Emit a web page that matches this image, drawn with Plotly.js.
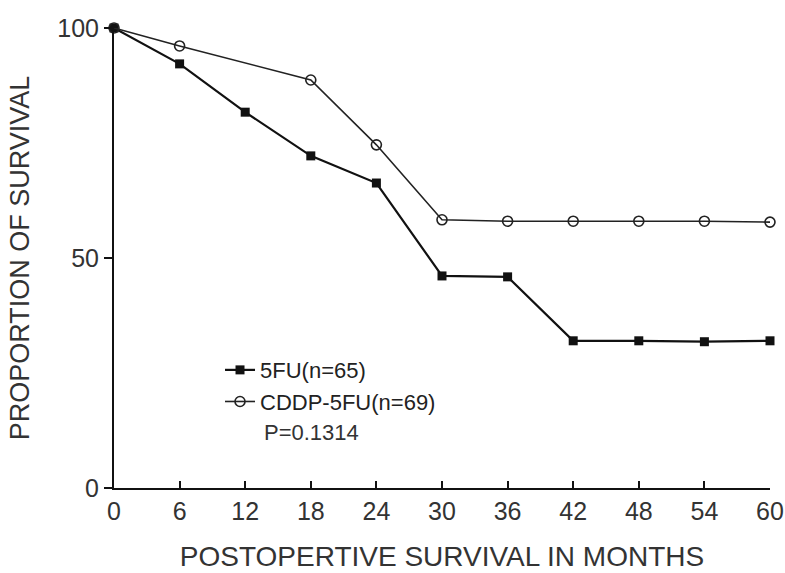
<!DOCTYPE html>
<html>
<head>
<meta charset="utf-8">
<script src="https://cdn.plot.ly/plotly-3.0.1.min.js"></script>
<style>html,body{margin:0;padding:0;background:#fff;}#chart{width:785px;height:573px;}</style>
</head>
<body>
<div id="chart"></div>
<script>
// Data
const monthsFU = [0, 6, 12, 18, 24, 30, 36, 42, 48, 54, 60];
const survFU = [100, 92.2, 81.7, 72.2, 66.3, 46.1, 45.9, 32.0, 32.0, 31.8, 32.0];
const monthsCDDP = [0, 6, 18, 24, 30, 36, 42, 48, 54, 60];
const survCDDP = [100, 96.1, 88.7, 74.6, 58.3, 58.0, 58.0, 58.0, 58.0, 57.8];
const xTicks = [0, 6, 12, 18, 24, 30, 36, 42, 48, 54, 60];
const yTicks = [0, 50, 100];
const nameFU = '5FU(n=65)';
const nameCDDP = 'CDDP-5FU(n=69)';
const pText = 'P=0.1314';

const FONT = 'Liberation Sans, Arial, sans-serif';

const traces = [
  {
    x: monthsFU, y: survFU, name: nameFU, type: 'scatter', mode: 'lines+markers',
    line: {color: '#111', width: 2.2},
    marker: {symbol: 'square', size: 9, color: '#111'},
    cliponaxis: false
  },
  {
    x: monthsCDDP, y: survCDDP, name: nameCDDP, type: 'scatter', mode: 'lines+markers',
    line: {color: '#222', width: 1.6},
    marker: {symbol: 'circle-open', size: 10, color: '#222', line: {width: 1.6}},
    cliponaxis: false
  }
];

const layout = {
  width: 785, height: 573,
  margin: {l: 114, r: 15, t: 28, b: 85},
  paper_bgcolor: '#fff', plot_bgcolor: '#fff',
  font: {family: FONT, color: '#222'},
  showlegend: true,
  legend: {
    x: 0.1616, y: 0.302, xanchor: 'left', yanchor: 'top',
    bgcolor: 'rgba(0,0,0,0)', font: {size: 22, family: FONT, color: '#222'},
    tracegroupgap: 0
  },
  xaxis: {
    range: [0, 60], tickmode: 'array', tickvals: xTicks, ticktext: xTicks.map(String),
    ticks: 'inside', ticklen: 7, tickwidth: 2, tickcolor: '#111',
    showline: true, linecolor: '#111', linewidth: 2, showgrid: false, zeroline: false,
    tickfont: {size: 25, family: FONT, color: '#333'},
    title: {text: 'POSTOPERTIVE SURVIVAL IN MONTHS', font: {size: 28, family: FONT, color: '#333'}, standoff: 22},
    automargin: false
  },
  yaxis: {
    range: [0, 100], tickmode: 'array', tickvals: yTicks, ticktext: yTicks.map(String),
    ticks: 'outside', ticklen: 8, tickwidth: 2, tickcolor: '#111',
    showline: true, linecolor: '#111', linewidth: 2, showgrid: false, zeroline: false,
    tickfont: {size: 25, family: FONT, color: '#333'},
    title: {text: 'PROPORTION OF SURVIVAL', font: {size: 27, family: FONT, color: '#333'}, standoff: 20},
    automargin: false
  },
  annotations: [
    {xref: 'paper', yref: 'paper', x: 0.2256, y: 0.1196, xanchor: 'left', yanchor: 'middle',
     text: pText, showarrow: false, font: {size: 22, family: FONT, color: '#333'}}
  ]
};

Plotly.newPlot('chart', traces, layout, {displayModeBar: false, staticPlot: true});
</script>
</body>
</html>
